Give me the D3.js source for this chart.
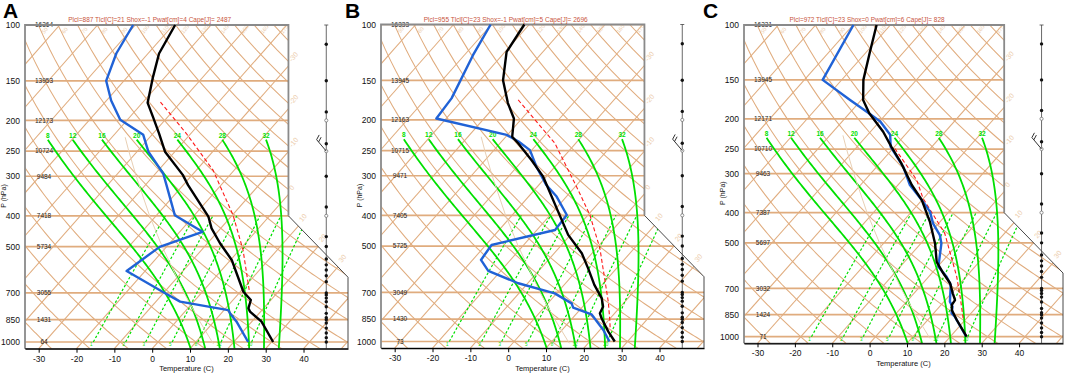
<!DOCTYPE html>
<html>
<head>
<meta charset="utf-8" />
<title>Skew-T soundings A B C</title>
<script src="https://cdn.jsdelivr.net/npm/d3@7"></script>
<style>
  body { margin: 0; background: #fff; }
  svg { display: block; font-family: "Liberation Sans", Arial, sans-serif; }
</style>
</head>
<body>
<svg width="1065" height="375"></svg>
<script>
// ---- chart values ----
const pressureLevels = [100, 150, 200, 250, 300, 400, 500, 700, 850, 1000];
const tempTicks = [-30, -20, -10, 0, 10, 20, 30, 40];
const moistAdiabats = [8, 12, 16, 20, 24, 28, 32];
const mixRatios = [1, 2, 3, 5, 8, 12, 20];
const isotherms = [-100, -90, -80, -70, -60, -50, -40, -30, -20, -10, 0, 10, 20, 30, 40, 50];
const dryAdiabats = [-40, -30, -20, -10, 0, 10, 20, 30, 40, 50, 60, 70, 80, 90, 100, 110, 120, 130, 140, 150, 160, 170];
const isothermLabels = [-30, -20, -10, 0, 10, 20, 30];
// US standard atmosphere (p hPa, T C)
const stdAtm = [[1013, 15], [1000, 14.3], [850, 5.5], [700, -4.6], [500, -21.2], [400, -31.7], [300, -44.5], [250, -52.3], [226, -56.5]];
// wind column: calm reports
const windDots = [115, 150, 188, 237, 300, 375, 465, 500, 547, 571, 593, 618, 645, 700, 711, 727, 746, 774, 812, 838, 850, 871, 904, 937, 969, 1000];
const windOpen = [200, 250, 400];

const titleA = 'Plcl=887 Tlcl[C]=21 Shox=-1 Pwat[cm]=4 Cape[J]= 2487';
const titleB = 'Plcl=955 Tlcl[C]=23 Shox=-1 Pwat[cm]=5 Cape[J]= 2696';
const titleC = 'Plcl=972 Tlcl[C]=23 Shox=0 Pwat[cm]=6 Cape[J]= 828';

const heightsA = [16364, 13953, 12173, 10724, 9484, 7418, 5734, 3055, 1431, 64];
const heightsB = [16333, 13945, 12163, 10715, 9471, 7405, 5725, 3049, 1430, 73];
const heightsC = [16331, 13945, 12171, 10710, 9463, 7387, 5697, 3032, 1424, 71];

// [pressure hPa, temperature C]
const tempA = [[100, -69.5], [123, -67.1], [146, -63.2], [176, -58.6], [195, -53.9], [220, -48.4], [251, -42.6], [297, -32.5], [320, -28.7], [379, -19.3], [402, -16.0], [438, -12.4], [488, -6.7], [551, 0.3], [607, 4.7], [694, 10.8], [737, 14.7], [783, 16.0], [802, 17.2], [863, 22.6], [1000, 30.4]];
const dewA = [[100, -80.6], [123, -78.4], [150, -74.7], [173, -68.8], [199, -61.9], [222, -52.3], [251, -47.0], [294, -38.0], [320, -34.4], [398, -25.2], [449, -14.0], [501, -21.8], [597, -24.9], [697, -10.2], [746, -3.6], [793, 11.1], [812, 12.3], [863, 16.0], [1000, 23.8]];
const parcelA = [[175, -55.4], [220, -41.2], [287, -25.6], [398, -9.8], [513, 1.0], [694, 12.4]];

const tempB = [[100, -71.3], [122, -69.6], [150, -63.9], [177, -57.3], [198, -52.1], [226, -48.3], [237, -45.2], [268, -37.7], [302, -30.8], [321, -27.9], [390, -18.6], [424, -14.6], [461, -10.6], [527, -2.7], [588, 2.5], [663, 8.0], [731, 13.1], [777, 15.4], [815, 16.1], [845, 17.7], [931, 22.6], [1000, 26.6]];
const dewB = [[100, -80.2], [125, -77.7], [171, -73.3], [198, -72.6], [223, -50.2], [234, -45.5], [249, -40.5], [281, -34.9], [321, -28.0], [349, -22.6], [399, -15.6], [445, -15.2], [496, -28.5], [553, -27.8], [599, -23.3], [655, -12.5], [705, -0.5], [758, 6.3], [782, 7.7], [821, 14.1], [920, 20.9], [1000, 25.2]];
const parcelB = [[173, -55.3], [237, -35.5], [333, -18.4], [399, -9.5], [508, 0.9], [749, 15.6], [866, 20.7], [906, 22.2]];

const tempC = [[100, -73.7], [122, -69.1], [150, -64.2], [174, -59.5], [192, -54.7], [220, -46.6], [246, -40.8], [278, -34.2], [326, -26.3], [364, -20.1], [428, -12.7], [502, -6.2], [575, -1.4], [626, 3.1], [674, 7.3], [726, 10.4], [763, 12.6], [791, 12.9], [821, 14.1], [884, 17.8], [1000, 24.4]];
const dewC = [[100, -79.9], [150, -75.1], [174, -63.0], [192, -54.8], [204, -49.8], [225, -44.0], [246, -41.0], [285, -32.9], [326, -26.8], [369, -19.3], [397, -15.1], [433, -11.5], [472, -6.9], [502, -4.5], [596, 0.2], [642, 4.8], [683, 7.9], [772, 11.6], [801, 13.5], [841, 14.8], [863, 16.5], [1000, 24.3]];
const parcelC = [[249, -39.5], [314, -26.2], [360, -20.1], [466, -6.0], [642, 7.5], [763, 14.1], [873, 19.1]];

// ---- skew-T geometry (same transform NCL uses) ----
const yU = p => 132.182 - 44.061 * Math.log10(p);
const pFromYU = y => Math.pow(10, (132.182 - y) / 44.061);
const xU = (T, p) => 0.54 * T + 0.90692 * yU(p);
// outline of the diagram in skew units
const boundary = [[-19, -0.9346217], [27.1, -0.9346217], [27.1, 9.0], [18.6, 17.53255], [18.6, 44.061], [-19, 44.061]];

const TAN = '#e0ac7e', TAN_TXT = '#ecccab', GREEN = '#00e000';

function satMix(Tc, p) {
  const es = 6.112 * Math.exp(17.67 * Tc / (Tc + 243.5));
  return 0.622 * es / (p - es);
}
function dTdp(T, p) {
  const rs = satMix(T - 273.15, p);
  const Lv = 2.501e6;
  return (287.04 * T + Lv * rs) / (p * (1005.7 + Lv * Lv * rs * 0.622 / (287.04 * T * T)));
}
// pseudo-adiabat through T0 (C) at 1000 hPa, from 1050 up to 230 hPa
function moistCurve(T0) {
  function run(p0, p1, dp) {
    let T = T0 + 273.15, p = p0;
    const out = [[p, T - 273.15]];
    while ((dp > 0 && p < p1) || (dp < 0 && p > p1)) {
      const k1 = dTdp(T, p);
      const k2 = dTdp(T + k1 * dp / 2, p + dp / 2);
      const k3 = dTdp(T + k2 * dp / 2, p + dp / 2);
      const k4 = dTdp(T + k3 * dp, p + dp);
      T += dp * (k1 + 2 * k2 + 2 * k3 + k4) / 6;
      p += dp;
      out.push([p, T - 273.15]);
    }
    return out;
  }
  const down = run(1000, 1050, 5).reverse();
  const up = run(1000, 230, -5);
  return down.concat(up.slice(1));
}
function mixCurve(w) {
  const pts = [];
  for (let p = 1000; p >= 400; p -= 25) {
    const e = (w / 1000) * p / (0.622 + w / 1000);
    const l = Math.log(e / 6.112);
    pts.push([p, 243.5 * l / (17.67 - l)]);
  }
  return pts;
}

const panels = [
  { id: 'A', left: 25, right: 348, top: 25, y1000: 342, letterX: 3, title: titleA, titleW: 163, heights: heightsA, temp: tempA, dew: dewA, parcel: parcelA },
  { id: 'B', left: 381, right: 704, top: 24.5, y1000: 341.5, letterX: 345, title: titleB, titleW: 164, heights: heightsB, temp: tempB, dew: dewB, parcel: parcelB },
  { id: 'C', left: 744, right: 1063, top: 25, y1000: 336.7, letterX: 703, title: titleC, titleW: 155, heights: heightsC, temp: tempC, dew: dewC, parcel: parcelC }
];

const svg = d3.select('svg');

panels.forEach(function(pn) {
  const g = svg.append('g');
  const xs = d3.scaleLinear().domain([-19, 27.1]).range([pn.left, pn.right]);
  const yBot = pn.y1000 + (pn.y1000 - pn.top) * Math.log10(1050 / 1000);
  const ps = d3.scaleLog().domain([1050, 100]).range([yBot, pn.top]);
  const X = (T, p) => xs(xU(T, p));
  const line = d3.line().x(d => X(d[1], d[0])).y(d => ps(d[0]));
  const polyPx = boundary.map(u => [xs(u[0]), ps(pFromYU(u[1]))]);

  const clipId = 'clip' + pn.id;
  g.append('clipPath').attr('id', clipId)
    .append('polygon').attr('points', polyPx.map(d => d.join(',')).join(' '));
  const bg = g.append('g').attr('clip-path', 'url(#' + clipId + ')');

  // isotherms
  bg.selectAll('.iso').data(isotherms).join('path')
    .attr('d', T => line([[1050, T], [100, T]]))
    .attr('fill', 'none').attr('stroke', TAN).attr('stroke-width', 1.05);

  // dry adiabats
  const pSteps = d3.range(1050, 95, -10);
  bg.selectAll('.dry').data(dryAdiabats).join('path')
    .attr('d', th => line(pSteps.map(p => [p, (th + 273.15) * Math.pow(p / 1000, 0.2854) - 273.15])))
    .attr('fill', 'none').attr('stroke', TAN).attr('stroke-width', 1.05);

  // isobars
  bg.selectAll('.isobar').data(pressureLevels).join('line')
    .attr('x1', xs(-19)).attr('x2', xs(27.1))
    .attr('y1', p => ps(p)).attr('y2', p => ps(p))
    .attr('stroke', TAN).attr('stroke-width', 1.7);

  // mixing ratio lines
  bg.selectAll('.mix').data(mixRatios).join('path')
    .attr('d', w => line(mixCurve(w)))
    .attr('fill', 'none').attr('stroke', GREEN).attr('stroke-width', 1.2)
    .attr('stroke-dasharray', '2.5,2');

  // moist adiabats
  const moist = moistAdiabats.map(t => ({ t: t, pts: moistCurve(t) }));
  bg.selectAll('.moist').data(moist).join('path')
    .attr('d', d => line(d.pts))
    .attr('fill', 'none').attr('stroke', GREEN).attr('stroke-width', 1.8);

  // standard atmosphere
  bg.append('path').attr('d', line(stdAtm))
    .attr('fill', 'none').attr('stroke', '#e8cfb4').attr('stroke-width', 1);

  // faint isotherm labels at the right border
  isothermLabels.forEach(function(T) {
    let last = null;
    for (let p = 1050; p >= 100; p -= 1) {
      if (d3.polygonContains(boundary, [xU(T, p), yU(p)])) last = p;
    }
    if (last === null) return;
    const x = X(T, last) + 4, y = ps(last) - 4;
    g.append('text').attr('x', x).attr('y', y)
      .attr('transform', 'rotate(-50,' + x + ',' + y + ')')
      .attr('font-size', 7).attr('fill', TAN_TXT).text(T);
  });
  // faint dry adiabat labels along the top
  dryAdiabats.forEach(function(th) {
    const T = (th + 273.15) * Math.pow(0.105, 0.2854) - 273.15;
    const u = xU(T, 105);
    if (u < -18 || u > 17.5) return;
    const x = xs(u) + 3, y = pn.top + 9;
    g.append('text').attr('x', x).attr('y', y)
      .attr('transform', 'rotate(-50,' + x + ',' + y + ')')
      .attr('font-size', 5.5).attr('fill', TAN_TXT).text(th);
  });

  // height labels on the isobars
  g.selectAll('.hgt').data(pressureLevels).join('text')
    .attr('x', pn.left + 19).attr('y', p => ps(p))
    .attr('dy', '0.35em').attr('text-anchor', 'middle')
    .attr('font-size', 6.5).attr('fill', '#222')
    .text((p, i) => pn.heights[i]);

  // moist adiabat labels
  g.selectAll('.mlab').data(moist).join('text')
    .attr('x', d => X(d.pts[d.pts.length - 1][1], 230))
    .attr('y', ps(230) - 2)
    .attr('text-anchor', 'middle').attr('font-size', 6.5).attr('font-weight', 'bold')
    .attr('fill', GREEN).text(d => d.t);

  // mixing ratio labels
  g.selectAll('.wlab').data(mixRatios).join('text')
    .attr('x', w => X(mixCurve(w)[0][1], 1000) - 2)
    .attr('y', ps(1018)).attr('dy', '0.35em')
    .attr('text-anchor', 'middle').attr('font-size', 4.5)
    .attr('fill', GREEN).text(w => w);

  // outline
  g.append('polyline')
    .attr('points', [polyPx[3], polyPx[4], polyPx[5], polyPx[0]].map(d => d.join(',')).join(' '))
    .attr('fill', 'none').attr('stroke', '#8a8a8a').attr('stroke-width', 1.8);
  g.append('polyline')
    .attr('points', [polyPx[0], polyPx[1], polyPx[2], polyPx[3]].map(d => d.join(',')).join(' '))
    .attr('fill', 'none').attr('stroke', '#333').attr('stroke-width', 0.9);

  // wind column
  const wx = xs(24);
  g.append('line').attr('x1', wx).attr('x2', wx).attr('y1', ps(100)).attr('y2', ps(1050))
    .attr('stroke', '#444').attr('stroke-width', 0.8);
  g.append('line').attr('x1', wx - 2).attr('x2', wx + 2).attr('y1', ps(100)).attr('y2', ps(100))
    .attr('stroke', '#444').attr('stroke-width', 0.8);
  g.selectAll('.wdot').data(windDots).join('circle')
    .attr('cx', wx).attr('cy', p => ps(p)).attr('r', 1.7).attr('fill', '#111');
  g.selectAll('.wopen').data(windOpen).join('circle')
    .attr('cx', wx).attr('cy', p => ps(p)).attr('r', 1.6)
    .attr('fill', '#fff').attr('stroke', '#666').attr('stroke-width', 0.7);
  // barb at 250 hPa
  const bx = wx, by = ps(250);
  const dir = 320 * Math.PI / 180;
  const ux = Math.sin(dir), uy = -Math.cos(dir);
  const ex = bx + 15 * ux, ey = by + 15 * uy;
  const fx = -uy, fy = ux;
  let barb = 'M' + bx + ',' + by + 'L' + ex + ',' + ey;
  [0, 3].forEach(function(off) {
    const sx = ex - off * ux, sy = ey - off * uy;
    barb += 'M' + sx + ',' + sy + 'L' + (sx + 5 * fx + 2 * ux) + ',' + (sy + 5 * fy + 2 * uy);
  });
  g.append('path').attr('d', barb).attr('fill', 'none').attr('stroke', '#333').attr('stroke-width', 1);

  // soundings
  g.append('path').attr('d', line(pn.parcel))
    .attr('fill', 'none').attr('stroke', '#ff1a1a').attr('stroke-width', 1.1)
    .attr('stroke-dasharray', '4,2.5');
  g.append('path').attr('d', line(pn.dew))
    .attr('fill', 'none').attr('stroke', '#2062d6').attr('stroke-width', 2.4)
    .attr('stroke-linejoin', 'round');
  g.append('path').attr('d', line(pn.temp))
    .attr('fill', 'none').attr('stroke', '#000').attr('stroke-width', 2.4)
    .attr('stroke-linejoin', 'round');

  // temperature axis (labels placed at the bottom pressure)
  const tLeft = (-19 - 0.90692 * yU(1050)) / 0.54;
  const tRight = (27.1 - 0.90692 * yU(1050)) / 0.54;
  const tScale = d3.scaleLinear().domain([tLeft, tRight]).range([pn.left, pn.right]);
  const ax = g.append('g').attr('transform', 'translate(0,' + yBot + ')')
    .call(d3.axisBottom(tScale).tickValues(tempTicks).tickFormat(d => String(d)).tickSize(4).tickPadding(3).tickSizeOuter(0));
  ax.select('.domain').attr('stroke', '#000').attr('stroke-width', 1.2);
  ax.selectAll('text').attr('font-size', 8.5).attr('font-family', '"Liberation Sans", Arial, sans-serif').attr('fill', '#111');

  const ay = g.append('g').attr('transform', 'translate(' + pn.left + ',0)')
    .call(d3.axisLeft(ps).tickValues(pressureLevels).tickFormat(d => String(d)).tickSize(0).tickPadding(5));
  ay.select('.domain').remove();
  ay.selectAll('text').attr('font-size', 8.5).attr('font-family', '"Liberation Sans", Arial, sans-serif').attr('fill', '#111');

  g.append('text')
    .attr('transform', 'translate(' + (pn.left - 19) + ',' + ((ps(300) + ps(400)) / 2) + ') rotate(-90)')
    .attr('text-anchor', 'middle').attr('font-size', 7).attr('fill', '#111').text('P (hPa)');
  g.append('text')
    .attr('x', (pn.left + pn.right) / 2).attr('y', yBot + 20).attr('dy', '0.35em')
    .attr('text-anchor', 'middle').attr('font-size', 7.5).attr('fill', '#111').text('Temperature (C)');

  // header
  g.append('text')
    .attr('x', (xs(-19) + xs(18.6)) / 2 - 7).attr('y', pn.top - 5).attr('dy', '0.35em')
    .attr('text-anchor', 'middle').attr('font-size', 6.5).attr('fill', '#c8553d')
    .attr('textLength', pn.titleW).attr('lengthAdjust', 'spacingAndGlyphs')
    .text(pn.title);
  g.append('text')
    .attr('x', pn.letterX).attr('y', 18)
    .attr('font-size', 21).attr('font-weight', 'bold').attr('fill', '#000')
    .text(pn.id);
});
</script>
</body>
</html>
